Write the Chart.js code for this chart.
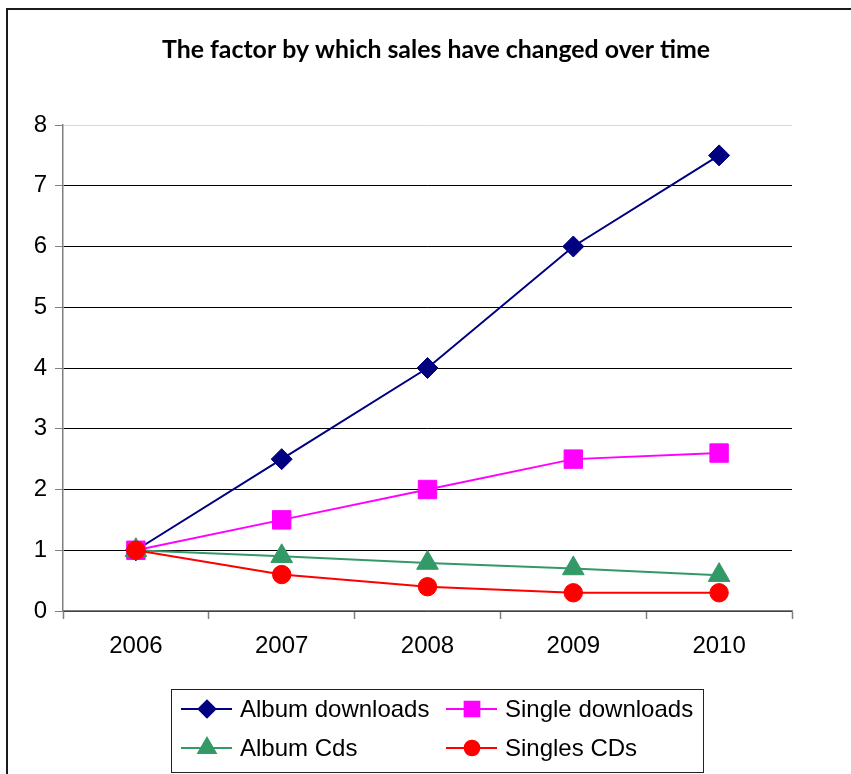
<!DOCTYPE html>
<html>
<head>
<meta charset="utf-8">
<script src="https://cdn.jsdelivr.net/npm/chart.js@4/dist/chart.umd.min.js"></script>
<style>
  html, body { margin: 0; padding: 0; background: #fff; }
  canvas { display: block; }
</style>
</head>
<body>
<canvas id="chart" width="851" height="774"></canvas>
<script>
// Sales change factor relative to 2006
const years = ['2006', '2007', '2008', '2009', '2010'];
const albumDownloads  = [1, 2.5, 4, 6, 7.5];
const singleDownloads = [1, 1.5, 2, 2.5, 2.6];
const albumCds        = [1, 0.9, 0.79, 0.7, 0.59];
const singlesCds      = [1, 0.6, 0.4, 0.3, 0.3];
const seriesNames = ['Album downloads', 'Single downloads', 'Album Cds', 'Singles CDs'];
const yTicks = [0, 1, 2, 3, 4, 5, 6, 7, 8];
const titleText = 'The factor by which sales have changed over time';

const AXIS_GREY = '#808080';
const LABEL_FONT = { family: '"Liberation Sans", Arial, sans-serif', size: 24 };

function series(label, data, color, pointStyle, radius, order) {
  return {
    label, data, order,
    borderColor: color, backgroundColor: color,
    pointBackgroundColor: color, pointBorderColor: color,
    pointStyle, pointRadius: radius, pointHoverRadius: radius,
    pointBorderWidth: 1, borderWidth: 2, tension: 0, fill: false
  };
}

// page frame, title and two-column legend
const decorations = {
  id: 'decorations',
  beforeDraw(chart) {
    const ctx = chart.ctx;
    ctx.save();
    ctx.fillStyle = '#ffffff';
    ctx.fillRect(0, 0, chart.width, chart.height);
    ctx.restore();
  },
  afterDraw(chart) {
    const ctx = chart.ctx;
    ctx.save();
    // outer frame
    ctx.fillStyle = '#1a1a1a';
    ctx.fillRect(6, 8, 2, chart.height);
    ctx.fillRect(6, 8, chart.width, 2);

    // title, sized to its target width
    const titleWidth = 548;
    ctx.font = 'bold 24px Lato, sans-serif';
    const w = ctx.measureText(titleText).width;
    const size = 24 * titleWidth / w;
    ctx.font = 'bold ' + size.toFixed(2) + 'px Lato, sans-serif';
    ctx.fillStyle = '#000';
    ctx.textAlign = 'center';
    ctx.textBaseline = 'alphabetic';
    ctx.fillText(titleText, 436, 58);

    // legend box
    const box = { x: 171.5, y: 689.5, w: 532, h: 83 };
    ctx.strokeStyle = '#222';
    ctx.lineWidth = 1;
    ctx.strokeRect(box.x, box.y, box.w, box.h);

    const cols = [181, 446];
    const rows = [709, 748];
    ctx.font = '24px "Liberation Sans", Arial, sans-serif';
    ctx.textAlign = 'left';
    ctx.textBaseline = 'middle';
    chart.data.datasets.forEach((ds, i) => {
      const x0 = cols[i % 2];
      const y = rows[Math.floor(i / 2)];
      ctx.strokeStyle = ds.borderColor;
      ctx.lineWidth = 2;
      ctx.beginPath();
      ctx.moveTo(x0, y);
      ctx.lineTo(x0 + 51, y);
      ctx.stroke();
      ctx.fillStyle = ds.pointBackgroundColor;
      ctx.strokeStyle = ds.pointBorderColor;
      Chart.helpers.drawPoint(ctx, {
        pointStyle: ds.pointStyle,
        radius: ds.pointRadius * 0.8,
        rotation: 0,
        borderWidth: 1
      }, x0 + 26, y);
      ctx.fillStyle = '#000';
      ctx.fillText(ds.label, x0 + 59, y + 1);
    });
    ctx.restore();
  }
};

new Chart(document.getElementById('chart'), {
  type: 'line',
  data: {
    labels: years,
    datasets: [
      series(seriesNames[0], albumDownloads,  '#000080', 'rectRot',  10.5, 4),
      series(seriesNames[1], singleDownloads, '#FF00FF', 'rect',     13,   3),
      series(seriesNames[2], albumCds,        '#339966', 'triangle', 12.5, 2),
      series(seriesNames[3], singlesCds,      '#FF0000', 'circle',   9.2,  1)
    ]
  },
  options: {
    responsive: false,
    animation: false,
    devicePixelRatio: 1,
    layout: { padding: { left: 0, top: 125, right: 59, bottom: 0 } },
    plugins: {
      legend: { display: false },
      title: { display: false },
      tooltip: { enabled: false }
    },
    scales: {
      x: {
        offset: true,
        afterFit(scale) { scale.height = 163; },
        border: { color: AXIS_GREY, width: 1.5 },
        grid: {
          offset: true,
          drawOnChartArea: false,
          drawTicks: true,
          tickLength: 8,
          tickColor: AXIS_GREY,
          tickWidth: 1.5
        },
        ticks: { color: '#000', font: LABEL_FONT, padding: 13, maxRotation: 0 }
      },
      y: {
        min: 0,
        max: 8,
        afterFit(scale) { scale.width = 63; },
        afterBuildTicks(scale) { scale.ticks = yTicks.map(v => ({ value: v })); },
        border: { color: AXIS_GREY, width: 1.5 },
        grid: {
          color: ctx => (ctx.tick && ctx.tick.value === 8) ? '#d9d9d9' : '#000',
          lineWidth: 1,
          tickLength: 8,
          tickColor: AXIS_GREY,
          tickWidth: 1
        },
        ticks: { color: '#000', font: LABEL_FONT, padding: 8 }
      }
    }
  },
  plugins: [decorations]
});
</script>
</body>
</html>
